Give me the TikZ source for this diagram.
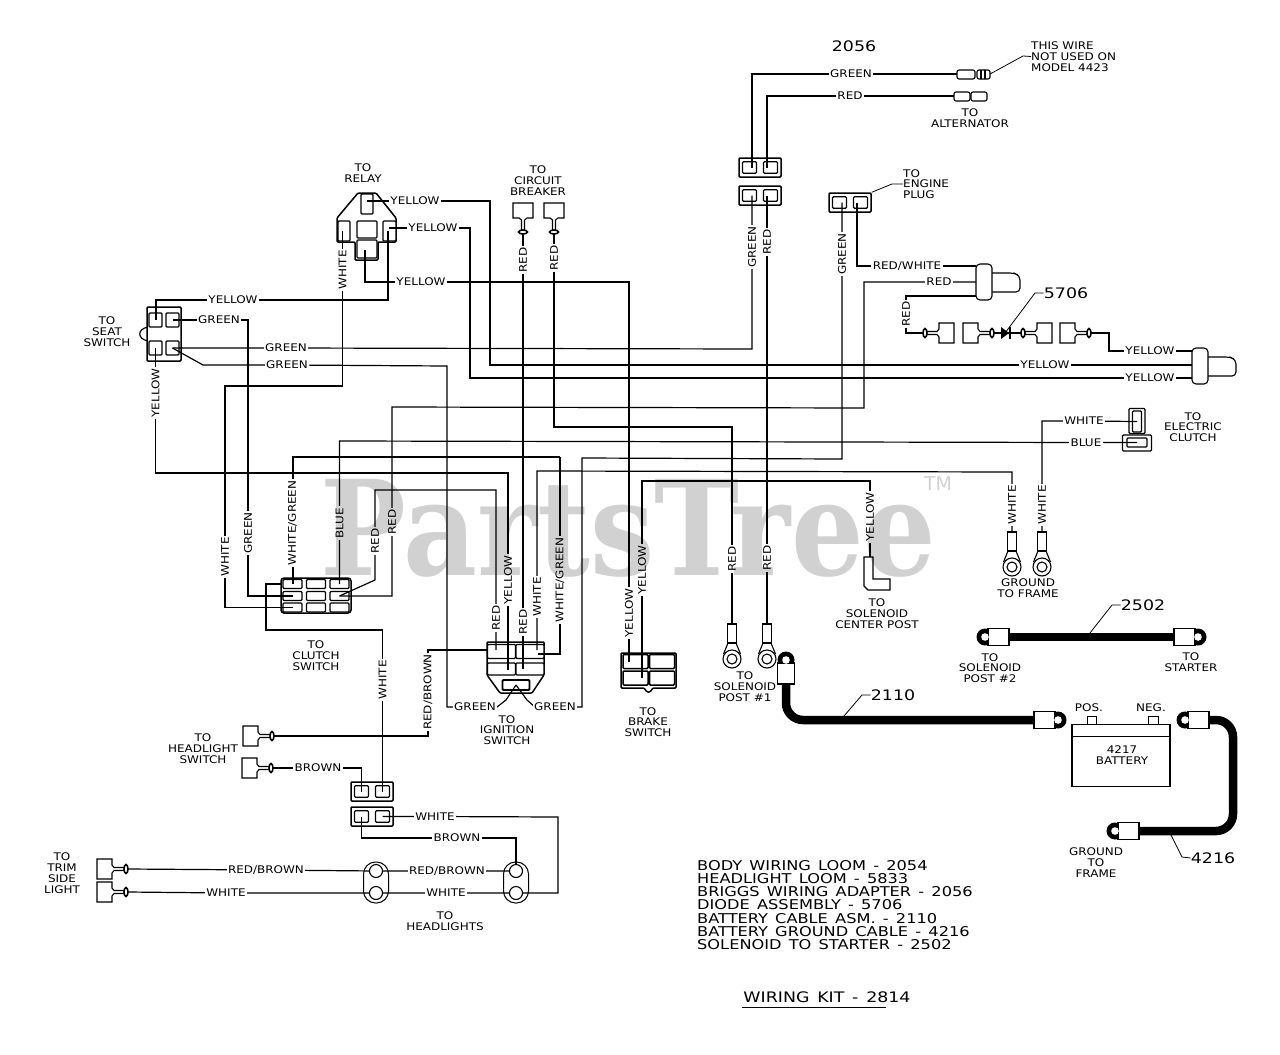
\documentclass[tikz,border=0pt]{standalone}
\usepackage{fontspec}
\setmainfont{DejaVu Sans}
\newfontfamily\plotfont[FakeStretch=1.14]{DejaVu Sans}
\newfontfamily\listfont[FakeStretch=1.2, WordSpace=1.4]{DejaVu Sans}
\newfontfamily\markfont[FakeStretch=.865]{DejaVu Serif}
\usepackage{tikz}
\usetikzlibrary{positioning}

\tikzset{
    wire/.style={line width=1.2pt, line join=miter},
    heavywire/.style={line width=2pt, line join=miter},
    cable/.style={line width=8.5pt, rounded corners=17pt},
    part/.style={line width=1.1pt, fill=white},
    socket/.style={draw, line width=1.1pt, fill=white, inner sep=0pt, rounded corners=1pt},
    shell/.style={draw, line width=1.5pt, fill=white, inner sep=0pt, rounded corners=1pt},
    lab/.style={fill=white, inner sep=1.5pt, font=\plotfont\fontsize{10.5}{11}\selectfont},
    rlab/.style={lab, rotate=90},
    note/.style={inner sep=0pt, align=center, font=\plotfont\fontsize{10.5}{10.8}\selectfont},
    part no/.style={inner sep=0pt, font=\listfont\fontsize{14.5}{15}\selectfont},
    leader/.style={line width=.8pt},
    spade/.pic={
        \draw[part] (-3,-1.5) -- (-14,-1.5) -- (-16,-4) -- (-16,-10) -- (-31,-10) -- (-31,10)
            -- (-16,10) -- (-16,4) -- (-14,1.5) -- (-3,1.5);
        \draw[part, line width=1.6pt] (-2,0) ellipse (2 and 4.5);
    },
    ringlug/.pic={
        \draw[part] (-4.5,0) rectangle (4.5,19);
        \draw[part] (-4,19) -- (-8.5,30) (4,19) -- (8.5,30);
        \draw[part] (0,35) circle (9);
        \draw[part] (0,35) circle (5);
    },
    boltlug/.pic={
        \fill (0,0) circle (8.5);
        \draw[line width=1.6pt, fill=white] (3,-8.5) rectangle (24,8.5);
        \fill[white] (0,0) circle (3.8);
    },
    duo/.pic={
        \node[shell, minimum width=42pt, minimum height=19pt] (-box) at (0,0) {};
        \node[socket, minimum width=14pt, minimum height=11.5pt] (-l) at (-10.5,0) {};
        \node[socket, minimum width=14pt, minimum height=11.5pt] (-r) at (10.5,0) {};
        \coordinate (-a) at (-8,0);
        \coordinate (-b) at (7,0);
    },
    bigplug/.pic={
        \draw[part, rounded corners=4pt] (16,9) -- (38,9) -- (44,12) -- (44,28) -- (16,28);
        \draw[part, rounded corners=4pt] (0,0) rectangle (16,36);
    },
}

\begin{document}
\begin{tikzpicture}[x=1pt, y=-1pt]
    \useasboundingbox (0,0) rectangle (1280,1055);
    \fill[white] (0,0) rectangle (1280,1055);

    % connectors
    \draw[shell] (358,193) -- (376,193) -- (396,218) -- (396,242) -- (378,242) -- (378,260)
        -- (355,260) -- (355,242) -- (337,242) -- (337,218) -- cycle;
    \node[socket, minimum width=12pt, minimum height=20pt] (relayTop) at (367,204) {};
    \node[socket, minimum width=12pt, minimum height=20pt] (relayLeft) at (344,231) {};
    \node[socket, minimum width=20pt, minimum height=17pt] (relayMid) at (367,229.5) {};
    \node[socket, minimum width=20pt, minimum height=18pt] (relayLow) at (367,249) {};
    \node[socket, minimum width=13pt, minimum height=20pt] (relayRight) at (389.5,231) {};
    \coordinate (relayY) at (367,201);
    \coordinate (relayW) at (342.5,231);
    \coordinate (relayZ) at (365,250);
    \coordinate (relayX) at (389,228);

    \node[shell, minimum width=34pt, minimum height=54pt] (seat) at (164,334) {};
    \draw[wire] (148,327) .. controls (137,329) and (137,339) .. (148,341);
    \node[socket, minimum width=13pt, minimum height=14pt] (seatA) at (155.5,320) {};
    \node[socket, minimum width=13pt, minimum height=14pt] (seatB) at (172.5,320) {};
    \node[socket, minimum width=13pt, minimum height=14pt] (seatC) at (155.5,348) {};
    \node[socket, minimum width=13pt, minimum height=14pt] (seatD) at (172.5,348) {};

    \node[shell, rounded corners=3pt, minimum width=70pt, minimum height=35pt] (clutch) at (316,595.5) {};
    \foreach \c/\x in {1/292.5,2/316,3/339.5} {
        \foreach \r/\y in {1/584,2/596,3/607.5} {
            \node[socket, minimum width=19pt, minimum height=9pt] (clutch\c\r) at (\x,\y) {};
        }
    }

    \draw[shell] (487,642) -- (544,642) -- (544,675) -- (532,693) -- (500,693) -- (487,675) -- cycle;
    \node[socket, minimum width=28pt, minimum height=14pt] (ignA) at (501.5,651.5) {};
    \node[socket, minimum width=28pt, minimum height=14pt] (ignB) at (530,651.5) {};
    \node[socket, minimum width=28pt, minimum height=12pt] (ignC) at (501.5,669) {};
    \node[socket, minimum width=28pt, minimum height=12pt] (ignD) at (530,669) {};
    \node[shell, line width=1.8pt, minimum width=27pt, minimum height=10pt] (ignSlot) at (516,685) {};
    \coordinate (ignRed) at (496,650);
    \coordinate (ignYel) at (508,670);
    \coordinate (ignWht) at (537,650);
    \coordinate (ignWg) at (538,654);
    \coordinate (ignBr) at (487,650);

    \draw[shell] (621,653) -- (676,653) -- (676,688) -- (653,688) -- (650,692) -- (647,692) -- (644,688)
        -- (621,688) -- cycle;
    \foreach \n/\x/\y in {A/635.5/661.5,B/662/661.5,C/635.5/678,D/662/678} {
        \node[socket, line width=1.5pt, minimum width=25pt, minimum height=14pt] (brake\n) at (\x,\y) {};
    }
    \coordinate (brakeY) at (629,662);
    \coordinate (brakeZ) at (642,678);

    \pic (upperA) at (760,167.5) {duo};
    \pic (upperB) at (760,195.5) {duo};
    \pic (engine) at (850,202.5) {duo};
    \pic (lampA) at (372,791.5) {duo};
    \pic (lampB) at (372,816.5) {duo};

    % terminals
    \coordinate (breakA) at (523,234);
    \coordinate (breakB) at (554,234);
    \pic[rotate=-90] at (breakA) {spade};
    \pic[rotate=-90] at (breakB) {spade};
    \coordinate (switchA) at (274,736);
    \coordinate (switchB) at (273,768);
    \pic at (switchA) {spade};
    \pic at (switchB) {spade};
    \coordinate (trimA) at (128,869);
    \coordinate (trimB) at (128,892);
    \pic at (trimA) {spade};
    \pic at (trimB) {spade};
    \coordinate (dioA) at (923,333);
    \coordinate (dioB) at (994,333);
    \coordinate (dioC) at (1021,333);
    \coordinate (dioD) at (1091,333);
    \pic[rotate=180] at (dioA) {spade};
    \pic at (dioB) {spade};
    \pic[rotate=180] at (dioC) {spade};
    \pic at (dioD) {spade};

    \coordinate (ringA) at (732,624);
    \coordinate (ringB) at (767,624);
    \coordinate (ringC) at (1012,532);
    \coordinate (ringD) at (1042,532);
    \foreach \r in {ringA,ringB,ringC,ringD} {
        \pic at (\r) {ringlug};
    }

    \draw[part, rounded corners=2pt] (957,70) rectangle (975,79);
    \draw[part, rounded corners=2pt] (977,70) rectangle (990,79);
    \draw[line width=1.2pt] (981,70) -- (981,79) (985,70) -- (985,79);
    \draw[part, rounded corners=2pt] (954,92) rectangle (970,101);
    \draw[part, rounded corners=2pt] (971,92) rectangle (987,101);
    \coordinate (plugGreen) at (957,74);
    \coordinate (plugRed) at (954,96);

    \pic at (976,264) {bigplug};
    \pic at (1192,348) {bigplug};
    \coordinate (plugA) at (976,266);
    \coordinate (plugB) at (976,282);
    \coordinate (plugC) at (976,296);
    \coordinate (plugD) at (1192,351);
    \coordinate (plugE) at (1192,365);
    \coordinate (plugF) at (1192,378);

    \node[shell, line width=1.1pt, minimum width=16pt, minimum height=25pt] (elecA) at (1137,421) {};
    \node[socket, minimum width=9pt, minimum height=21pt] (elecB) at (1137,421.5) {};
    \node[shell, line width=1.1pt, minimum width=29pt, minimum height=16pt] (elecC) at (1137,443) {};
    \node[socket, minimum width=20pt, minimum height=9pt] (elecD) at (1137,442.5) {};

    \draw[part] (864,557) -- (873,557) -- (873,579) -- (890,579) -- (890,590) -- (868,590) -- (864,586) -- cycle;
    \coordinate (postEnd) at (870,557);

    % wires
    \draw[wire] (relayY) -- (415,201) node[lab] (labYa) {YELLOW} -- (490,201) -- (490,365)
        -- (1045,365) node[lab] (labYb) {YELLOW} -- (plugE);
    \draw[wire] (relayX) -- (433,228) node[lab] (labYc) {YELLOW} -- (470,228) -- (470,378)
        -- (1150,378) node[lab] (labYd) {YELLOW} -- (plugF);
    \draw[wire] (relayZ) -- (365,282) -- (421,282) node[lab] (labYe) {YELLOW} -- (629,282)
        -- (629,613) node[rlab] (labYf) {YELLOW} -- (brakeY);
    \draw[heavywire] (388,231) -- (388,300) -- (233,300) node[lab] (labYg) {YELLOW} -- (155.5,300)
        -- (seatA.center);
    \draw[heavywire] (seatB.center) -- (219,320) node[lab] (labGa) {GREEN} -- (248,320)
        -- (248,533) node[rlab] (labGb) {GREEN} -- (248,596) -- (clutch12.center);
    \draw[wire] (seatD.center) -- (286,348) node[lab] (labGc) {GREEN} -- (752,349)
        -- (752,247) node[rlab] (labGd) {GREEN} -- (upperB-a);
    \draw[wire] (seatD.center) -- (203,365) -- (287,365) node[lab] (labGe) {GREEN} -- (447,366)
        -- (447,707) -- (475,707) node[lab] (labGf) {GREEN} -- (497,707) -- (506,700) -- (ignSlot.center);
    \draw[wire] (seatC.center) -- (155.5,393) node[rlab] (labYh) {YELLOW} -- (155.5,473) -- (508,473)
        -- (508,580) node[rlab] (labYi) {YELLOW} -- (ignYel);
    \draw[wire] (relayW) -- (342.5,270) node[rlab] (labWa) {WHITE} -- (342.5,386) -- (225,386)
        -- (225,557) node[rlab] (labWb) {WHITE} -- (225,607.5) -- (clutch13.center);
    \draw[wire] (clutch31.center) -- (339.5,523) node[rlab] (labB) {BLUE} -- (339.5,441)
        -- (1086,442.5) node[lab] (labBb) {BLUE} -- (elecD.center);
    \draw[heavywire] (clutch11.center) -- (292.5,523) node[rlab] (labWg) {WHITE/GREEN} -- (292.5,457)
        -- (560,457);
    \draw[wire] (560,457) -- (560,580) node[rlab] (labWh) {WHITE/GREEN} -- (560,654) -- (ignWg);
    \draw[wire] (clutch32.center) -- (375,580) -- (375,541) node[rlab] (labRa) {RED} -- (375,490)
        -- (496,490) -- (496,618) node[rlab] (labRb) {RED} -- (ignRed);
    \draw[wire] (clutch32.center) -- (392,596) -- (392,522) node[rlab] (labRc) {RED} -- (392,407)
        -- (864,408) -- (864,282) -- (939,282) node[lab] (labRd) {RED} -- (plugB);
    \draw[wire] (clutch11.west) -- (266,584) -- (266,630) -- (382.5,630)
        -- (382.5,680) node[rlab] (labWc) {WHITE} -- (lampA-r.center);
    \draw[heavywire] (breakA) -- (523,260) node[rlab] (labRe) {RED} -- (523,622) node[rlab] (labRf) {RED}
        -- (523,669);
    \draw[wire] (breakB) -- (554,258) node[rlab] (labRg) {RED} -- (554,427) -- (732,427)
        -- (732,559) node[rlab] (labRh) {RED} -- (ringA);
    \draw[wire] (upperB-b) -- (767,242) node[rlab] (labRi) {RED} -- (767,558) node[rlab] (labRj) {RED}
        -- (ringB);
    \draw[wire] (upperA-a) -- (752,74) -- (851,74) node[lab] (labGg) {GREEN} -- (plugGreen);
    \draw[wire] (upperA-b) -- (767,96) -- (850,96) node[lab] (labRk) {RED} -- (plugRed);
    \draw[wire] (engine-a) -- (842,254) node[rlab] (labGh) {GREEN} -- (842,459) -- (582,458)
        -- (582,707) -- (555,707) node[lab] (labGi) {GREEN} -- (535,707) -- (527,700) -- (ignSlot.center);
    \draw[wire] (engine-b) -- (857,266) -- (907,266) node[lab] (labRw) {RED/WHITE} -- (plugA);
    \draw[wire] (plugC) -- (906,296) -- (906,314) node[rlab] (labRl) {RED} -- (906,333) -- (dioA);
    \draw[wire] (brakeZ) -- (642,570) node[rlab] (labYj) {YELLOW} -- (642,481) -- (870,481) -- (870,517)
        node[rlab] (labYk) {YELLOW} -- (postEnd);
    \draw[wire] (ignWht) -- (537,597) node[rlab] (labWd) {WHITE} -- (537,471) -- (1012,472)
        -- (1012,505) node[rlab] (labWe) {WHITE} -- (ringC);
    \draw[wire] (elecB.center) -- (1084,421) node[lab] (labWf) {WHITE} -- (1042,421)
        -- (1042,505) node[rlab] (labWi) {WHITE} -- (ringD);
    \draw[wire] (dioD) -- (1109,333) -- (1109,351) -- (1150,351) node[lab] (labYl) {YELLOW} -- (plugD);
    \draw[wire] (dioB) -- (dioC);
    \fill (1001,327) -- (1001,339) -- (1009,333) -- cycle;
    \draw[line width=2pt] (1010,327) -- (1010,339);
    \draw[wire] (ignBr) -- (428,650) -- (428,692) node[rlab] (labRbr) {RED/BROWN} -- (428,736) -- (switchA);
    \draw[wire] (switchB) -- (318,768) node[lab] (labBr) {BROWN} -- (361.5,768) -- (lampA-l.center);

    \draw[wire] (lampB-r.center) -- (435,816.5) node[lab] (labWj) {WHITE} -- (558,817) -- (558,893)
        -- (516,893) -- (446,893) node[lab] (labWk) {WHITE} -- (376,893) -- (226,893)
        node[lab] (labWl) {WHITE} -- (trimB);
    \draw[wire] (lampB-l.center) -- (361.5,838) -- (457,838) node[lab] (labBs) {BROWN} -- (516,838) -- (516,871);
    \draw[wire] (516,871) -- (447,871) node[lab] (labRo) {RED/BROWN} -- (376,871) -- (266,870)
        node[lab] (labRp) {RED/BROWN} -- (trimA);

    \foreach \x in {376,516} {
        \draw[line width=1pt, rounded corners=12pt] (\x-12.5,862) rectangle (\x+12.5,903);
        \draw[part] (\x,871) circle (6.5);
        \draw[part] (\x,893) circle (6.5);
    }

    % cables
    \coordinate (lugA) at (985,637);
    \coordinate (lugB) at (1198,637);
    \coordinate (lugC) at (786,660);
    \coordinate (lugD) at (1058,720);
    \coordinate (lugE) at (1185,720);
    \coordinate (lugF) at (1115,831);
    \draw[cable] (lugA) -- (lugB);
    \draw[cable] (lugC) -- (786,720) -- (lugD);
    \draw[cable] (lugE) -- (1233,720) -- (1233,831) -- (lugF);
    \pic at (lugA) {boltlug};
    \pic[rotate=180] at (lugB) {boltlug};
    \pic[rotate=-90] at (lugC) {boltlug};
    \pic[rotate=180] at (lugD) {boltlug};
    \pic at (lugE) {boltlug};
    \pic at (lugF) {boltlug};

    % battery
    \node[draw, line width=1.1pt, minimum width=98pt, minimum height=62pt, inner sep=0pt] (battery) at (1121,755.5) {};
    \draw[line width=1pt] (1072,736) -- (1170,736);
    \draw[line width=1pt] (1087,724) -- (1087,716) -- (1096,716) -- (1096,724);
    \draw[line width=1pt] (1148,724) -- (1148,716) -- (1158,716) -- (1158,724);
    \node[note] (batteryText) at (1122,755) {4217\\BATTERY};
    \node[note] (posText) at (1089,708) {POS.};
    \node[note] (negText) at (1151,708) {NEG.};

    % leaders and part numbers
    \node[part no] (no2056) at (854,46) {2056};
    \node[part no] (no5706) at (1066,293) {5706};
    \node[part no] (no2502) at (1143,605) {2502};
    \node[part no] (no2110) at (893,695) {2110};
    \node[part no] (no4216) at (1213,858) {4216};
    \node[note, anchor=west, align=left] (unused) at (1031,56.5) {THIS WIRE\\NOT USED ON\\MODEL 4423};
    \node[note, anchor=west, align=left] (enginePlug) at (903,184) {TO\\ENGINE\\PLUG};
    \draw[leader] (990,74) -- (1023,56) -- (unused.west);
    \draw[leader] (engine-box.north east) -- (892,184) -- (enginePlug.west);
    \draw[leader] (1005,333) -- (1035,293) -- (no5706.west);
    \draw[leader] (1090,633) -- (1112,605) -- (no2502.west);
    \draw[leader] (844,716) -- (862,695) -- (no2110.west);
    \draw[leader] (1171,835) -- (1182,857) -- (no4216.west);

    % texts
    \node[note] (toRelay) at (363,173.5) {TO\\RELAY};
    \node[note] (toBreaker) at (538,180.5) {TO\\CIRCUIT\\BREAKER};
    \node[note] (toAlt) at (970,118) {TO\\ALTERNATOR};
    \node[note] (toSeat) at (107,331.5) {TO\\SEAT\\SWITCH};
    \node[note] (toClutch) at (316,655.5) {TO\\CLUTCH\\SWITCH};
    \node[note] (toIgn) at (507,730) {TO\\IGNITION\\SWITCH};
    \node[note] (toBrake) at (648,722) {TO\\BRAKE\\SWITCH};
    \node[note] (toPostA) at (745,686.5) {TO\\SOLENOID\\POST \#1};
    \node[note] (toCenter) at (877,613.5) {TO\\SOLENOID\\CENTER POST};
    \node[note] (toFrame) at (1028,588.5) {GROUND\\TO FRAME};
    \node[note] (toElec) at (1193,427) {TO\\ELECTRIC\\CLUTCH};
    \node[note] (toPostB) at (990,668) {TO\\SOLENOID\\POST \#2};
    \node[note] (toStarter) at (1191,662.5) {TO\\STARTER};
    \node[note] (toGround) at (1096,862.5) {GROUND\\TO\\FRAME};
    \node[note] (toHead) at (203,748.5) {TO\\HEADLIGHT\\SWITCH};
    \node[note] (toTrim) at (62,873) {TO\\TRIM\\SIDE\\LIGHT};
    \node[note] (toLamps) at (445,921) {TO\\HEADLIGHTS};

    \node[anchor=north west, align=left, inner sep=0pt, font=\listfont\fontsize{13.5}{13.2}\selectfont] (parts) at (697,860)
        {BODY WIRING LOOM - 2054\\HEADLIGHT LOOM - 5833\\BRIGGS WIRING ADAPTER - 2056\\DIODE ASSEMBLY - 5706\\BATTERY CABLE ASM. - 2110\\BATTERY GROUND CABLE - 4216\\SOLENOID TO STARTER - 2502};
    \node[inner sep=0pt, font=\listfont\fontsize{14.5}{14.5}\selectfont] (kit) at (827,997) {WIRING KIT - 2814};
    \draw[line width=1pt] (742,1007) -- (886,1007);

    % watermark over the lines
    \begin{scope}[blend mode=multiply]
        \node[anchor=base west, inner sep=0pt, text=black!18, font=\markfont\bfseries\fontsize{132}{132}\selectfont] (mark) at (320,575) {PartsTree};
        \node[anchor=center, inner sep=0pt, text=black!18, font=\fontsize{19}{19}\selectfont] (markTm) at (938,484) {TM};
    \end{scope}
\end{tikzpicture}
\end{document}
